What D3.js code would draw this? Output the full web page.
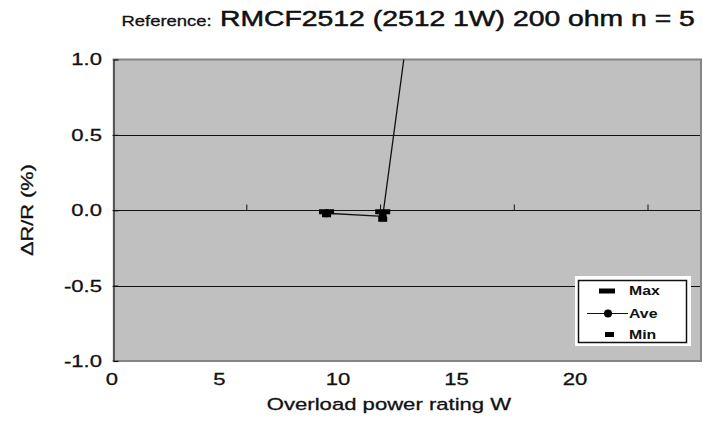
<!DOCTYPE html>
<html><head><meta charset="utf-8">
<script src="https://cdn.jsdelivr.net/npm/d3@7"></script>
<style>
body{margin:0;background:#fff}
svg{display:block}
text{font-family:"Liberation Sans",Arial,Helvetica,sans-serif;fill:#111;stroke:#111;stroke-width:0.3px}
</style>
</head><body>
<svg id="c" width="713" height="425"></svg>
<script>
// ---- data ----
const seriesNames = ["Max", "Ave", "Min"];
const maxX = [8, 10.1];
const maxY = [-0.01, -0.01];
const aveX = [8, 10.1, 12];
const aveY = [-0.02, -0.04, 2.47];
const minX = [8, 10.1];
const minY = [-0.03, -0.06];
const xTickLabels = [0, 5, 10, 15, 20];
const xTickMarks = [5, 10, 15, 20];
const yTickLabels = [-1.0, -0.5, 0.0, 0.5, 1.0];
const yGridValues = [-0.5, 0.0, 0.5];
const titleSmall = "Reference:";
const titleMain = "RMCF2512 (2512 1W) 200 ohm n = 5";
const xTitle = "Overload power rating W";
const yTitle = "\u0394R/R (%)";

// ---- setup ----
const svg = d3.select("#c");
const x = d3.scaleLinear().domain([0, 22]).range([112.6, 701]);
const y = d3.scaleLinear().domain([-1, 1]).range([361, 59.5]);
// label positions in the reference are offset from the tick marks
const xLab = d3.scaleLinear().domain([0, 5, 20]).range([112, 219.5, 575]);

function stretch(sel, sx) {
  sel.attr("transform", function () {
    const tx = +this.getAttribute("x"), ty = +this.getAttribute("y");
    return `translate(${tx},${ty}) scale(${sx},1) translate(${-tx},${-ty})`;
  });
}

const x0 = x(0), x1 = x(22), yT = y(1), yB = y(-1);

// plot background
svg.append("rect").attr("x", x0).attr("y", yT).attr("width", x1 - x0).attr("height", yB - yT)
  .attr("fill", "#c0c0c0");

// clip
svg.append("clipPath").attr("id", "clip").append("rect")
  .attr("x", x0).attr("y", yT).attr("width", x1 - x0).attr("height", yB - yT);

// gridlines
svg.append("g").selectAll("line").data(yGridValues).join("line")
  .attr("x1", x0).attr("x2", x1)
  .attr("y1", d => Math.round(y(d)) + 0.5).attr("y2", d => Math.round(y(d)) + 0.5)
  .attr("stroke", "#111").attr("stroke-width", 1);

// x tick marks on zero line (pointing up)
const xAxis = svg.append("g").attr("transform", `translate(0,${Math.round(y(0)) + 0.5})`)
  .call(d3.axisTop(x).tickValues(xTickMarks).tickSizeInner(6).tickSizeOuter(0).tickFormat(""));
xAxis.select(".domain").remove();
xAxis.selectAll("line").attr("stroke", "#111");

// frame (top, right, bottom) grey
const fr = svg.append("g").attr("stroke", "#858585").attr("stroke-width", 2).attr("fill", "none");
fr.append("path").attr("d", `M${x0},${yT}H${x1}V${yB}H${x0}`);

// left axis (black with inward ticks)
const yAxis = svg.append("g").attr("transform", `translate(${Math.round(x0) + 0.5},0)`)
  .call(d3.axisRight(y).tickValues(yTickLabels).tickSizeInner(5).tickSizeOuter(0).tickFormat(""));
yAxis.selectAll("line,path").attr("stroke", "#111").attr("stroke-width", 1.2);

// y tick labels
svg.append("g").selectAll("text").data(yTickLabels).join("text")
  .attr("x", 102).attr("y", d => y(d) + 6)
  .attr("text-anchor", "end").attr("font-size", 17)
  .text(d => d.toFixed(1))
  .call(stretch, 1.3);

// x tick labels
svg.append("g").selectAll("text").data(xTickLabels).join("text")
  .attr("x", d => xLab(d)).attr("y", 385)
  .attr("text-anchor", "middle").attr("font-size", 17)
  .text(d => d)
  .call(stretch, 1.3);

// axis titles
svg.append("text").attr("x", 389).attr("y", 410).attr("text-anchor", "middle")
  .attr("font-size", 17).text(xTitle).call(stretch, 1.3);
svg.append("text").attr("transform", "translate(33,210) rotate(-90)")
  .attr("text-anchor", "middle").attr("font-size", 17)
  .attr("textLength", 92).attr("lengthAdjust", "spacingAndGlyphs").text(yTitle);

// chart title
svg.append("text").attr("x", 121.5).attr("y", 26).attr("font-size", 15).text(titleSmall).call(stretch, 1.23);
svg.append("text").attr("x", 220).attr("y", 26).attr("font-size", 22.5).style("stroke-width", "0.5px")
  .text(titleMain).call(stretch, 1.26);

// data
const plot = svg.append("g").attr("clip-path", "url(#clip)");
const avePts = aveX.map((v, i) => [v, aveY[i]]);
plot.append("path").datum(avePts)
  .attr("d", d3.line().x(d => x(d[0])).y(d => y(d[1])))
  .attr("fill", "none").attr("stroke", "#111").attr("stroke-width", 1.3);
plot.selectAll(".ave").data(avePts).join("circle")
  .attr("cx", d => x(d[0])).attr("cy", d => y(d[1])).attr("r", 4).attr("fill", "#000");
const maxPts = maxX.map((v, i) => [v, maxY[i]]);
plot.selectAll(".mx").data(maxPts).join("rect")
  .attr("x", d => x(d[0]) - 7.5).attr("y", d => y(d[1]) - 2.5).attr("width", 15).attr("height", 5).attr("fill", "#000");
const minPts = minX.map((v, i) => [v, minY[i]]);
plot.selectAll(".mn").data(minPts).join("rect")
  .attr("x", d => x(d[0]) - 4.5).attr("y", d => y(d[1]) - 2.5).attr("width", 9).attr("height", 5).attr("fill", "#000");

// legend
const lg = svg.append("g");
lg.append("rect").attr("x", 575).attr("y", 276).attr("width", 116).attr("height", 70).attr("fill", "#fff");
lg.append("rect").attr("x", 578.5).attr("y", 280.5).attr("width", 108).attr("height", 62)
  .attr("fill", "none").attr("stroke", "#111").attr("stroke-width", 1.5);
const rowY = [291, 313.5, 334.5];
seriesNames.forEach((name, i) => {
  const cy = rowY[i];
  if (name === "Max") {
    lg.append("rect").attr("x", 599).attr("y", cy - 2.5).attr("width", 16).attr("height", 5).attr("fill", "#000");
  } else if (name === "Ave") {
    lg.append("line").attr("x1", 587).attr("x2", 628).attr("y1", cy).attr("y2", cy).attr("stroke", "#111").attr("stroke-width", 1.2);
    lg.append("circle").attr("cx", 608).attr("cy", cy).attr("r", 4).attr("fill", "#000");
  } else {
    lg.append("rect").attr("x", 605).attr("y", cy - 2.5).attr("width", 9).attr("height", 5).attr("fill", "#000");
  }
  lg.append("text").attr("x", 629).attr("y", cy + 4.5).attr("font-size", 13).attr("font-weight", "bold")
    .style("stroke-width", "0px").text(name).call(stretch, 1.22);
});
</script>
</body></html>
